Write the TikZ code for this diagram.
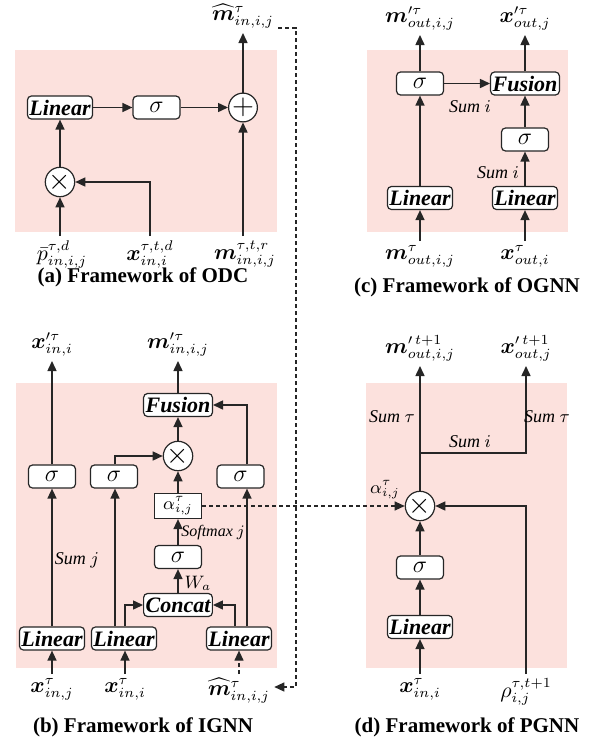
\documentclass[tikz,border=0pt]{standalone}
\usepackage{fontspec}
\setmainfont{Liberation Serif}
\usepackage{amsmath}
\usepackage{bm}
\usepackage{tikz}
\usetikzlibrary{positioning,arrows.meta}
\definecolor{panelpink}{RGB}{252,225,221}
\tikzset{
	panel/.style={fill=panelpink},
	blk/.style={draw=black!85, fill=white, rounded corners=2pt, line width=0.6pt, minimum height=11.5pt, inner xsep=1pt, inner ysep=0pt, font=\fontsize{11}{12}\selectfont\bfseries\itshape},
	lin/.style={blk, minimum width=32pt},
	sig/.style={blk, minimum width=23.5pt, font=\fontsize{12.5}{12}\selectfont},
	op/.style={draw=black!85, fill=white, circle, line width=0.6pt, minimum size=14pt, inner sep=0pt, font=\fontsize{14}{14}\selectfont},
	var/.style={font=\fontsize{10.5}{12}\selectfont, inner sep=2pt},
	note/.style={font=\fontsize{9}{10}\selectfont\itshape},
	captxt/.style={font=\fontsize{10.5}{12}\selectfont\bfseries},
	arr/.style={draw=black!85, line width=0.75pt, -{Triangle[length=5pt,width=4.5pt]}},
	dsh/.style={dash pattern=on 2pt off 1.5pt, line width=0.6pt}
}

\begin{document}
\begin{tikzpicture}[x=0.5pt,y=-0.5pt]
		\useasboundingbox (0,0) rectangle (590,750);
		%Background of the four panels
		\foreach \xa/\ya/\xb/\yb in {15/50/277/232, 367/50/568/232, 16/383/277/668, 366/383/567/668}
		\fill[panel] (\xa,\ya) rectangle (\xb,\yb);

		%(a) Framework of ODC
		\node[lin] (aLin) at (60,107.5) {Linear};
		\node[sig] (aSig) at (156.5,107.5) {$\sigma$};
		\node[op] (aAdd) at (243,107.5) {$+$};
		\node[op] (aMul) at (60,182) {$\times$};
		\node[var,anchor=north] (aP) at (62,236) {$\bar{p}^{\tau,d}_{in,i,j}$};
		\node[var,anchor=north] (aX) at (150,236) {$\bm{x}^{\tau,t,d}_{in,i}$};
		\node[var,anchor=north] (aM) at (245,236) {$\bm{m}^{\tau,t,r}_{in,i,j}$};
		\node[var,anchor=south] (aOut) at (243,33) {$\widehat{\bm{m}}^{\tau}_{in,i,j}$};
		\draw[arr] (aP.north -| aMul) -- (aMul);
		\draw[arr] (aX) |- (aMul);
		\draw[arr] (aMul) -- (aLin);
		\draw[arr] (aLin) -- (aSig);
		\draw[arr] (aSig) -- (aAdd);
		\draw[arr] (aM.north -| aAdd) -- (aAdd);
		\draw[arr] (aAdd) -- (aOut);
		\node[captxt] (aCap) at (143,277) {(a) Framework of ODC};

		%(c) Framework of OGNN
		\node[sig] (cSigL) at (420,83.5) {$\sigma$};
		\node[blk,minimum width=32pt] (cFus) at (525,83.5) {Fusion};
		\node[sig] (cSigR) at (525,139.5) {$\sigma$};
		\node[lin] (cLinL) at (420,198) {Linear};
		\node[lin] (cLinR) at (525,198) {Linear};
		\node[var,anchor=north] (cM) at (420,241) {$\bm{m}^{\tau}_{out,i,j}$};
		\node[var,anchor=north] (cX) at (525,241) {$\bm{x}^{\tau}_{out,i}$};
		\node[var,anchor=south] (cMo) at (420,35) {$\bm{m}'^{\tau}_{out,i,j}$};
		\node[var,anchor=south] (cXo) at (525,35) {$\bm{x}'^{\tau}_{out,j}$};
		\draw[arr] (cM) -- (cLinL);
		\draw[arr] (cLinL) -- (cSigL);
		\draw[arr] (cSigL) -- (cMo);
		\draw[arr] (cSigL) -- (cFus);
		\draw[arr] (cX) -- (cLinR);
		\draw[arr] (cLinR) -- (cSigR);
		\draw[arr] (cSigR) -- (cFus);
		\draw[arr] (cFus) -- (cXo);
		\node[note] (cSum1) at (470,107) {Sum $i$};
		\node[note] (cSum2) at (498,173) {Sum $i$};
		\node[captxt] (cCap) at (467,287) {(c) Framework of OGNN};

		%(b) Framework of IGNN
		\coordinate (b2l) at (115,0);
		\coordinate (b3l) at (235,0);
		\coordinate (b3r) at (247,0);
		\node[lin] (bLin1) at (52,638.5) {Linear};
		\node[lin] (bLin2) at (124,638.5) {Linear};
		\node[lin] (bLin3) at (239,638.5) {Linear};
		\node[sig] (bSig1) at (52,476.5) {$\sigma$};
		\node[sig] (bSig2) at (114,476.5) {$\sigma$};
		\node[sig] (bSig3) at (240.5,476.5) {$\sigma$};
		\node[blk,minimum width=32pt] (bCat) at (178,605) {Concat};
		\node[sig] (bSigM) at (178,557) {$\sigma$};
		\node[draw=black!85,fill=white,line width=0.6pt,minimum width=23.5pt,minimum height=12.5pt,inner sep=0pt,font=\fontsize{9}{10}\selectfont] (bAlp) at (178,506) {$\alpha^{\tau}_{i,j}$};
		\node[op] (bMul) at (178,456) {$\times$};
		\node[blk,minimum width=31pt] (bFus) at (178,405) {Fusion};
		\node[var,anchor=north] (bXj) at (52,674) {$\bm{x}^{\tau}_{in,j}$};
		\node[var,anchor=north] (bXi) at (125,674) {$\bm{x}^{\tau}_{in,i}$};
		\node[var,anchor=north] (bMh) at (239,674) {$\widehat{\bm{m}}^{\tau}_{in,i,j}$};
		\node[var,anchor=south] (bXo) at (52,361) {$\bm{x}'^{\tau}_{in,i}$};
		\node[var,anchor=south] (bMo) at (178,361) {$\bm{m}'^{\tau}_{in,i,j}$};
		\draw[arr] (bXj) -- (bLin1);
		\draw[arr] (bLin1) -- (bSig1);
		\draw[arr] (bSig1) -- (bXo);
		\draw[arr] (bXi) -- (bXi |- bLin2.south);
		\draw[arr] (bLin2.north -| b2l) -- (bSig2.south -| b2l);
		\draw[arr] (bLin2.north -| bXi) |- (bCat.west);
		\draw[arr] (bLin3.north -| b3l) |- (bCat.east);
		\draw[arr] (bLin3.north -| b3r) -- (bSig3.south -| b3r);
		\draw[arr] (bSig3.north -| b3r) |- (bFus.east);
		\draw[arr] (bSig2.north -| b2l) |- (bMul.west);
		\draw[arr] (bCat) -- (bSigM);
		\draw[arr] (bSigM) -- (bAlp);
		\draw[arr] (bAlp) -- (bMul);
		\draw[arr] (bMul) -- (bFus);
		\draw[arr] (bFus) -- (bMo);
		\draw[arr,dsh] (bMh) -- (bMh |- bLin3.south);
		\node[note] (bSumj) at (77,560) {Sum $j$};
		\node[note] (bWa) at (198,583) {$W_a$};
		\node[note,font=\fontsize{8}{9}\selectfont\itshape] (bSoft) at (213,533) {Softmax $j$};
		\node[captxt] (bCap) at (143,727) {(b) Framework of IGNN};

		%(d) Framework of PGNN
		\node[op] (dMul) at (420,506) {$\times$};
		\node[sig] (dSig) at (420,567.5) {$\sigma$};
		\node[lin] (dLin) at (420,627) {Linear};
		\node[var,anchor=north] (dX) at (420,674) {$\bm{x}^{\tau}_{in,i}$};
		\node[var,anchor=north] (dRho) at (526,674) {$\rho^{\tau,t+1}_{i,j}$};
		\node[var,anchor=south] (dMo) at (420,366) {$\bm{m}'^{\,t+1}_{out,i,j}$};
		\node[var,anchor=south] (dXo) at (526,366) {$\bm{x}'^{\,t+1}_{out,j}$};
		\coordinate (dBr) at (420,453);
		\draw[arr] (dX) -- (dLin);
		\draw[arr] (dLin) -- (dSig);
		\draw[arr] (dSig) -- (dMul);
		\draw[arr] (dRho) |- (dMul.east);
		\draw[arr] (dMul) -- (dMo);
		\draw[arr] (dBr) -| (dXo);
		\node[note] (dAlp) at (385,490) {$\alpha^{\tau}_{i,j}$};
		\node[note] (dSum1) at (392,417) {Sum $\tau$};
		\node[note] (dSum2) at (547,417) {Sum $\tau$};
		\node[note] (dSum3) at (470,442) {Sum $i$};
		\node[captxt] (dCap) at (467,727) {(d) Framework of PGNN};

		%Links between the panels
		\coordinate (jTop) at (296,28);
		\coordinate (jBot) at (296,687);
		\draw[arr,dsh] (aOut.east |- jTop) -- (jTop) -- (jBot) -- (bMh.east |- jBot);
		\draw[arr,dsh] (bAlp.east) -- (bAlp.east -| dMul.west);
		\end{tikzpicture}
\end{document}
